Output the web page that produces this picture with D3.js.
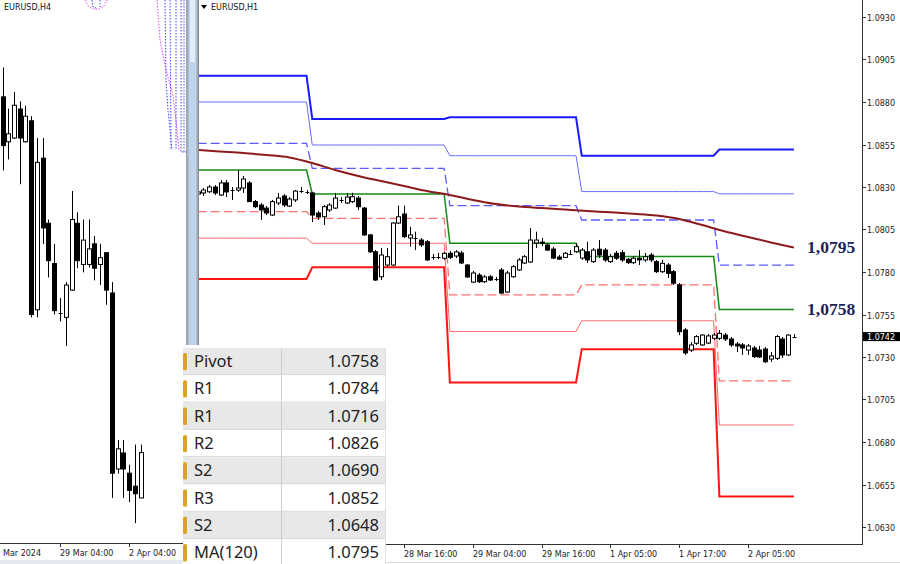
<!DOCTYPE html>
<html><head><meta charset="utf-8">
<script src="https://cdn.jsdelivr.net/npm/d3@7"></script>
<style>html,body{margin:0;padding:0;background:#fff;overflow:hidden}</style>
</head><body>
<svg id="c" width="900" height="564" xmlns="http://www.w3.org/2000/svg"></svg>
<script>
// ---------- DATA ----------
// H1 candles (right pane), bar index -20 .. 84 (0 = 28 Mar 00:00)
const h1Start = -20;
const h1Open  = [1.08259,1.08265,1.08272,1.08300,1.08253,1.08324,1.08282,1.08282,1.08294,1.08324,1.08214,1.08194,1.08176,1.08135,1.08206,1.08247,1.08188,1.08224,1.08274,1.08271,
 1.08265,1.08147,1.08125,1.08165,1.08176,1.08224,1.08206,1.08214,1.08235,1.08176,1.08018,1.07919,1.07772,1.07841,1.07841,1.08088,1.08141,1.08000,1.08000,1.07988,1.07978,1.07888,1.07888,1.07881,
 1.07910,1.07894,1.07912,1.07841,1.07741,1.07782,1.07743,1.07772,1.07759,1.07812,1.07682,1.07772,1.07812,1.07853,1.07859,1.07971,1.07976,1.07959,1.07935,1.07888,1.07886,1.07906,1.07919,
 1.07882,1.07919,1.07861,1.07934,1.07929,1.07861,1.07910,1.07914,1.07875,1.07855,1.07881,1.07871,1.07900,1.07861,1.07802,1.07841,1.07802,1.07724,1.07459,1.07341,1.07381,1.07371,1.07382,1.07410,
 1.07410,1.07429,1.07406,1.07376,1.07371,1.07341,1.07353,1.07341,1.07347,1.07288,1.07292,1.07406,1.07312,1.07418];
const h1High  = [1.08282,1.08294,1.08312,1.08312,1.08341,1.08341,1.08300,1.08400,1.08365,1.08335,1.08224,1.08206,1.08188,1.08224,1.08265,1.08259,1.08241,1.08282,1.08300,1.08282,
 1.08271,1.08159,1.08194,1.08206,1.08265,1.08241,1.08265,1.08266,1.08247,1.08182,1.08024,1.07929,1.07941,1.07941,1.08094,1.08190,1.08190,1.08066,1.08037,1.08000,1.07988,1.07906,1.07912,1.07918,
 1.07924,1.07929,1.07924,1.07847,1.07806,1.07794,1.07782,1.07782,1.07771,1.07824,1.07806,1.07841,1.07882,1.07900,1.08059,1.08037,1.08000,1.07971,1.07947,1.07900,1.07918,1.07929,1.07969,
 1.07941,1.07978,1.07941,1.07988,1.07941,1.07906,1.07924,1.07929,1.07882,1.07894,1.07929,1.07912,1.07912,1.07871,1.07871,1.07853,1.07812,1.07735,1.07471,1.07388,1.07429,1.07435,1.07435,1.07441,
 1.07459,1.07441,1.07418,1.07388,1.07382,1.07376,1.07365,1.07365,1.07359,1.07329,1.07429,1.07418,1.07435,1.07435];
const h1Low   = [1.08241,1.08247,1.08265,1.08253,1.08247,1.08241,1.08224,1.08271,1.08265,1.08212,1.08176,1.08106,1.08135,1.08129,1.08194,1.08182,1.08182,1.08212,1.08265,1.08259,
 1.08094,1.08106,1.08076,1.08153,1.08171,1.08206,1.08200,1.08206,1.08165,1.08012,1.07912,1.07747,1.07753,1.07831,1.07835,1.08082,1.08000,1.07949,1.07929,1.07947,1.07865,1.07871,1.07876,1.07871,
 1.07876,1.07882,1.07847,1.07765,1.07735,1.07735,1.07735,1.07747,1.07747,1.07671,1.07676,1.07765,1.07806,1.07847,1.07853,1.07941,1.07953,1.07924,1.07876,1.07871,1.07882,1.07900,1.07912,
 1.07871,1.07853,1.07853,1.07882,1.07859,1.07853,1.07871,1.07859,1.07847,1.07847,1.07841,1.07859,1.07859,1.07794,1.07794,1.07765,1.07724,1.07429,1.07312,1.07329,1.07371,1.07365,1.07376,1.07400,
 1.07400,1.07394,1.07359,1.07329,1.07312,1.07312,1.07294,1.07294,1.07265,1.07271,1.07282,1.07294,1.07306,1.07412];
const h1Close = [1.08271,1.08282,1.08300,1.08265,1.08324,1.08271,1.08285,1.08294,1.08347,1.08214,1.08184,1.08165,1.08147,1.08214,1.08235,1.08194,1.08229,1.08276,1.08277,1.08268,
 1.08135,1.08124,1.08184,1.08194,1.08235,1.08221,1.08241,1.08243,1.08184,1.08018,1.07919,1.07753,1.07900,1.07890,1.08088,1.08125,1.08008,1.08018,1.07997,1.07959,1.07871,1.07885,1.07891,1.07910,
 1.07886,1.07918,1.07853,1.07771,1.07794,1.07743,1.07771,1.07753,1.07756,1.07676,1.07794,1.07831,1.07871,1.07890,1.07988,1.07988,1.07968,1.07929,1.07882,1.07876,1.07910,1.07912,1.07949,
 1.07929,1.07871,1.07929,1.07900,1.07871,1.07890,1.07881,1.07871,1.07855,1.07881,1.07871,1.07890,1.07871,1.07802,1.07851,1.07792,1.07734,1.07449,1.07324,1.07371,1.07420,1.07429,1.07424,1.07429,
 1.07439,1.07406,1.07371,1.07365,1.07353,1.07365,1.07302,1.07300,1.07272,1.07306,1.07420,1.07312,1.07429,1.07420];

// MA(120) sampled every 4 bars
const maIdx = [-20,-16,-12,-8,-4,0,4,8,12,16,20,24,28,32,36,40,44,48,52,56,60,64,68,72,76,80,84];
const maVal = [1.08518,1.08509,1.08500,1.08488,1.08474,1.08441,1.08400,1.08365,1.08335,1.08306,1.08276,1.08253,1.08224,1.08200,1.08185,1.08176,1.08168,1.08159,1.08151,1.08142,1.08132,1.08112,1.08076,1.08038,1.08006,1.07974,1.07944];

// Daily pivot levels: 27 Mar, 28 Mar, 29 Mar, 1 Apr, 2 Apr
const dayFirst = [-20, 0, 24, 47, 71];
const dayLast  = [-1, 23, 46, 70, 84];
const lvR3 = [1.08955,1.08700,1.08710,1.08484,1.0852];
const lvR2 = [1.08800,1.08547,1.08484,1.08273,1.0826];
const lvR1 = [1.08557,1.08410,1.08190,1.08106,1.0784];
const lvP  = [1.08400,1.08259,1.07969,1.07891,1.0758];
const lvS1 = [1.08155,1.08116,1.07665,1.07724,1.0716];
const lvS2 = [1.07999,1.07969,1.07450,1.07513,1.0690];
const lvS3 = [1.07759,1.07828,1.07150,1.07346,1.0648];

const yTicks = [1.0630,1.0655,1.0680,1.0705,1.0730,1.0755,1.0780,1.0805,1.0830,1.0855,1.0880,1.0905,1.0930];
const xTickIdx = [16,28,40,52,64,76];
const xTickLabels = ["28 Mar 16:00","29 Mar 04:00","29 Mar 16:00","1 Apr 05:00","1 Apr 17:00","2 Apr 05:00"];
const lastPrice = 1.0742;

// H4 candles (left pane), bar index -10 .. 14 (0 = 29 Mar 04:00)
const h4Start = -10;
const h4Open  = [1.08267,1.08160,1.08169,1.08238,1.08160,1.08210,1.07760,1.08121,1.07966,1.07870,1.07753,1.07742,1.07807,1.07966,1.07868,1.07868,1.07917,1.07868,1.07896,1.07800,1.07381,1.07419,1.07371,1.07340,1.07312];
const h4High  = [1.08337,1.08239,1.08279,1.08256,1.08246,1.08221,1.08169,1.08169,1.07975,1.07917,1.07788,1.07826,1.08043,1.07992,1.07975,1.07975,1.07936,1.07917,1.07896,1.07826,1.07450,1.07450,1.07391,1.07439,1.07439];
const h4Low   = [1.08092,1.08118,1.08167,1.08059,1.08158,1.07742,1.07742,1.07917,1.07837,1.07749,1.07732,1.07674,1.07805,1.07859,1.07849,1.07861,1.07830,1.07819,1.07772,1.07312,1.07370,1.07312,1.07302,1.07252,1.07312];
const h4Close = [1.08151,1.08179,1.08247,1.08169,1.08221,1.07749,1.08111,1.07955,1.07877,1.07758,1.07751,1.07819,1.07975,1.07877,1.07926,1.07905,1.07859,1.07884,1.07807,1.07371,1.07429,1.07381,1.07330,1.07322,1.07420];
const h4TickIdx = [-12,0,12];
const h4TickLabels = ["Mar 2024","29 Mar 04:00","2 Apr 04:00"];

// Table
const tblNames  = ["Pivot","R1","R1","R2","S2","R3","S2","MA(120)"];
const tblValues = ["1.0758","1.0784","1.0716","1.0826","1.0690","1.0852","1.0648","1.0795"];
const bigLabels = [{text:"1,0795", v:1.0795},{text:"1,0758", v:1.0758}];

// ---------- DRAW ----------
const svg = d3.select("#c");
const axisFont = "DejaVu Sans, Verdana, sans-serif";
svg.append("rect").attr("width",900).attr("height",564).attr("fill","#fff");

const defs = svg.append("defs");
defs.append("clipPath").attr("id","clipR").append("rect").attr("x",199).attr("y",0).attr("width",663).attr("height",544);
defs.append("clipPath").attr("id","clipL").append("rect").attr("x",0).attr("y",0).attr("width",186).attr("height",543);

// scales
const xR = d3.scaleLinear().domain([-20,84]).range([197.6,793.9]);
const yR = d3.scaleLinear().domain([1.0630,1.0930]).range([527,17]);
const xL = d3.scaleLinear().domain([-10,14]).range([2.5,140.5]);
const yL = d3.scaleLinear().domain([1.0720,1.0850]).range([545,-1]);

function drawCandles(g, start, O, Hh, L, C, x, y){
  O.forEach((o,j)=>{
    const i = start + j;
    const cx = Math.round(x(i));
    const c = C[j];
    g.append("line").attr("x1",cx+0.5).attr("x2",cx+0.5)
      .attr("y1",y(Hh[j])).attr("y2",y(L[j])).attr("stroke","#000").attr("stroke-width",1);
    const yo = y(o), yc = y(c);
    const top = Math.min(yo,yc), h = Math.abs(yo-yc);
    if (h < 1.2) {
      g.append("line").attr("x1",cx-1.5).attr("x2",cx+2.5).attr("y1",Math.round(yo)+0.5).attr("y2",Math.round(yo)+0.5)
        .attr("stroke","#000");
    } else {
      g.append("rect").attr("x",cx-1.5).attr("y",top).attr("width",4).attr("height",h)
        .attr("fill", c>o ? "#fff" : "#000").attr("stroke","#000").attr("stroke-width",1);
    }
  });
}

// ----- right pane -----
const gR = svg.append("g").attr("clip-path","url(#clipR)");

function levelSeries(lv){
  const pts=[];
  lv.forEach((v,d)=>{ for(let i=dayFirst[d]; i<=dayLast[d]; i++) pts.push([i,v]); });
  return pts;
}
const lineR = d3.line().x(d=>xR(d[0])).y(d=>yR(d[1]));
const levels = [
  {lv:lvR3, color:"#1a1aff", w:2,   dash:null},
  {lv:lvR2, color:"#6a6aff", w:1,   dash:null},
  {lv:lvR1, color:"#5a5aff", w:1.3, dash:"9,4"},
  {lv:lvP,  color:"#138a13", w:1.5, dash:null},
  {lv:lvS1, color:"#ff7070", w:1.3, dash:"9,4"},
  {lv:lvS2, color:"#ff6a6a", w:1,   dash:null},
  {lv:lvS3, color:"#ff1414", w:2,   dash:null}
];
levels.forEach(L=>{
  gR.append("path").datum(levelSeries(L.lv)).attr("d",lineR).attr("fill","none")
    .attr("stroke",L.color).attr("stroke-width",L.w).attr("stroke-dasharray",L.dash);
});
gR.append("path").datum(maIdx.map((i,k)=>[i,maVal[k]]))
  .attr("d", d3.line().x(d=>xR(d[0])).y(d=>yR(d[1])).curve(d3.curveMonotoneX))
  .attr("fill","none").attr("stroke","#8e1b1b").attr("stroke-width",2);

drawCandles(gR, h1Start, h1Open, h1High, h1Low, h1Close, xR, yR);

// big labels
bigLabels.forEach(b=>{
  svg.append("text").attr("x",807).attr("y",yR(b.v)+6).text(b.text)
    .attr("font-family","Liberation Serif, Times New Roman, serif").attr("font-weight","bold")
    .attr("font-size",17.5).attr("fill","#1c1f5a");
});

// right axis
svg.append("line").attr("x1",862.5).attr("x2",862.5).attr("y1",0).attr("y2",545).attr("stroke","#333");
svg.append("line").attr("x1",199).attr("x2",863).attr("y1",544.5).attr("y2",544.5).attr("stroke","#333");
yTicks.forEach(v=>{
  const y = Math.round(yR(v))+0.5;
  svg.append("line").attr("x1",862).attr("x2",866).attr("y1",y).attr("y2",y).attr("stroke","#333");
  svg.append("text").attr("x",867).attr("y",y+3).text(v.toFixed(4))
    .attr("font-family",axisFont).attr("font-size",8).attr("fill","#222");
});
// current price tag
{
  const y = yR(lastPrice);
  svg.append("rect").attr("x",863).attr("y",y-4.5).attr("width",37).attr("height",9).attr("fill","#000");
  svg.append("text").attr("x",867).attr("y",y+3).text(lastPrice.toFixed(4))
    .attr("font-family",axisFont).attr("font-size",8).attr("fill","#fff");
}
xTickIdx.forEach((i,k)=>{
  const x = Math.round(xR(i))+0.5;
  svg.append("line").attr("x1",x).attr("x2",x).attr("y1",544).attr("y2",548).attr("stroke","#333");
  svg.append("text").attr("x",x-0.5).attr("y",557).text(xTickLabels[k])
    .attr("font-family",axisFont).attr("font-size",8).attr("fill","#222");
});
svg.append("line").attr("x1",199).attr("x2",900).attr("y1",562.5).attr("y2",562.5).attr("stroke","#d8dde3");

// pane title
svg.append("path").attr("d","M201,5 L207,5 L204,9 Z").attr("fill","#000");
svg.append("text").attr("x",211).attr("y",10).text("EURUSD,H1")
  .attr("font-family",axisFont).attr("font-size",8).attr("fill","#111");

// ----- left pane -----
const gL = svg.append("g").attr("clip-path","url(#clipL)");
drawCandles(gL, h4Start, h4Open, h4High, h4Low, h4Close, xL, yL);
// dotted indicator remnants (top)
const dotted = [
  {pts:[[85,0],[88,6],[93,9],[99,9],[104,6],[107,0]], c:"#ee44ee"},
  {pts:[[92,0],[93,7],[96,8]], c:"#4444ff"},
  {pts:[[100,0],[100,7]], c:"#4444ff"},
  {pts:[[157,0],[160,40],[166,70],[173,95],[176,120],[179,150]], c:"#ee44ee"},
  {pts:[[165,0],[166,80],[168,110],[172,150]], c:"#4444ff"},
  {pts:[[170,0],[171,150]], c:"#4444ff"},
  {pts:[[176,0],[176,150]], c:"#4444ff"},
  {pts:[[181,0],[181,152],[186,152]], c:"#4444ff"},
  {pts:[[184,0],[184,152]], c:"#4444ff"}
];
dotted.forEach(d=>{
  gL.append("path").datum(d.pts).attr("d",d3.line()).attr("fill","none")
    .attr("stroke",d.c).attr("stroke-width",1).attr("stroke-dasharray","1.5,1.5");
});
svg.append("text").attr("x",4).attr("y",10).text("EURUSD,H4")
  .attr("font-family",axisFont).attr("font-size",8).attr("fill","#111");
svg.append("line").attr("x1",0).attr("x2",186).attr("y1",543.5).attr("y2",543.5).attr("stroke","#333");
h4TickIdx.forEach((i,k)=>{
  const x = Math.round(xL(i))+0.5;
  svg.append("line").attr("x1",x).attr("x2",x).attr("y1",543).attr("y2",547).attr("stroke","#333");
  svg.append("text").attr("x",Math.max(3, x-0.5)).attr("y",556).text(h4TickLabels[k])
    .attr("font-family",axisFont).attr("font-size",8).attr("fill","#222");
});
svg.append("rect").attr("x",0).attr("y",560).attr("width",186).attr("height",4).attr("fill","#e4e9ef");

// separator
svg.append("rect").attr("x",186).attr("y",0).attr("width",13).attr("height",564).attr("fill","#9ea9b5");
svg.append("rect").attr("x",188.5).attr("y",0).attr("width",8).attr("height",564).attr("fill","#bfd3ea");
svg.append("rect").attr("x",190).attr("y",0).attr("width",5).attr("height",62).attr("fill","#e3edf7");
svg.append("line").attr("x1",198.5).attr("x2",198.5).attr("y1",0).attr("y2",564).attr("stroke","#8c8c8c");

// ----- table -----
const tX0 = 183, tX1 = 385, tSplit = 281, tTop = 348, rowH = 27.3;
const gT = svg.append("g");
gT.append("rect").attr("x",tX0).attr("y",tTop-3).attr("width",tX1-tX0).attr("height",564-tTop+3).attr("fill","#fff");
tblNames.forEach((n,r)=>{
  const y0 = tTop + r*rowH;
  gT.append("rect").attr("x",tX0).attr("y",y0).attr("width",tX1-tX0).attr("height",rowH)
    .attr("fill", r%2===0 ? "#e8e8e8" : "#ffffff");
  gT.append("line").attr("x1",tX0).attr("x2",tX1).attr("y1",y0+rowH-0.5).attr("y2",y0+rowH-0.5).attr("stroke","#d6d6d6");
  gT.append("rect").attr("x",183).attr("y",y0+5).attr("width",4).attr("height",rowH-10).attr("rx",1.5)
    .attr("fill","#d9a520");
  gT.append("text").attr("x",194).attr("y",y0+rowH/2+5.5).text(n)
    .attr("font-family","Noto Sans, Open Sans, sans-serif").attr("font-size",16.5).attr("fill","#222");
  gT.append("text").attr("x",379).attr("y",y0+rowH/2+5.5).attr("text-anchor","end").text(tblValues[r])
    .attr("font-family","Noto Sans, Open Sans, sans-serif").attr("font-size",16.5).attr("fill","#222");
});
gT.append("line").attr("x1",tSplit+0.5).attr("x2",tSplit+0.5).attr("y1",tTop).attr("y2",564).attr("stroke","#cfcfcf");
gT.append("line").attr("x1",tX1+0.5).attr("x2",tX1+0.5).attr("y1",tTop).attr("y2",564).attr("stroke","#e0e0e0");
</script>
</body></html>
